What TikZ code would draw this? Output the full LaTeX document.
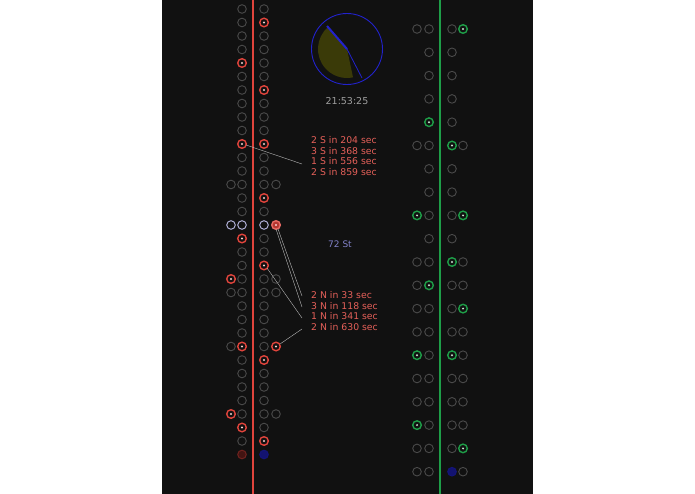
\documentclass[tikz,border=0pt]{standalone}
\usepackage{fontspec}
\setmainfont{DejaVu Sans}
\usetikzlibrary{positioning}
\definecolor{panel}{HTML}{111111}
\definecolor{sred}{HTML}{E0443C}
\definecolor{sgreen}{HTML}{1E9E48}
\definecolor{ring}{HTML}{4A4A4A}
\definecolor{olive}{HTML}{3A3A08}
\definecolor{dial}{HTML}{2222CC}
\begin{document}
\begin{tikzpicture}[x=1pt, y=-1pt,
    st n/.style={draw=none},
    st o/.style={draw=ring, line width=0.9pt},
    st w/.style={draw=gray!70!blue!50, line width=1pt},
    st r/.style={draw=sred, line width=1.4pt,
        path picture={\fill[white!75!sred] (path picture bounding box.center) circle (1.1pt);}},
    st q/.style={draw=sred!80, line width=1.4pt, fill=sred!80!black,
        path picture={\fill[white!75!sred] (path picture bounding box.center) circle (1.1pt);}},
    st g/.style={draw=sgreen, line width=1.4pt,
        path picture={\fill[white!75!sgreen] (path picture bounding box.center) circle (1.1pt);}},
    st d/.style={draw=sred!50!black, line width=1pt, fill=sred!30!black},
    st b/.style={draw=dial!60!black, line width=1pt, fill=dial!55!black},
    info/.style={text=sred!85, font=\fontsize{9.3}{10.8}\selectfont, align=left, inner sep=0pt},
    lead/.style={draw=gray!55, line width=0.4pt}]
    \useasboundingbox (0,0) rectangle (695,494);
    \fill[panel] (162,0) rectangle (533,494);

    % Red line with its stops
    \draw[sred, line width=2.6pt] (253,0) -- (253,494);
    \foreach \k/\a/\b/\c/\d in {0/n/o/o/n, 1/n/o/r/n, 2/n/o/o/n, 3/n/o/o/n, 4/n/r/o/n,
        5/n/o/o/n, 6/n/o/r/n, 7/n/o/o/n, 8/n/o/o/n, 9/n/o/o/n, 10/n/r/r/n, 11/n/o/o/n,
        12/n/o/o/n, 13/o/o/o/o, 14/n/o/r/n, 15/n/o/o/n, 16/w/w/w/q, 17/n/r/o/n,
        18/n/o/o/n, 19/n/o/r/n, 20/r/o/o/o, 21/o/o/o/o, 22/n/o/o/n, 23/n/o/o/n,
        24/n/o/o/n, 25/o/r/o/r, 26/n/o/r/n, 27/n/o/o/n, 28/n/o/o/n, 29/n/o/o/n,
        30/r/o/o/o, 31/n/r/o/n, 32/n/o/r/n, 33/n/d/b/n} {
        \pgfmathsetmacro{\yy}{9+13.5*\k}
        \path[st \a] (231,\yy) circle (4.3pt);
        \path[st \b] (242,\yy) circle (4.3pt);
        \path[st \c] (264,\yy) circle (4.3pt);
        \path[st \d] (276,\yy) circle (4.3pt);
    }

    % Green line with its stops
    \draw[sgreen, line width=2.6pt] (440,0) -- (440,494);
    \foreach \k/\a/\b/\c/\d in {0/o/o/o/g, 1/n/o/o/n, 2/n/o/o/n, 3/n/o/o/n, 4/n/g/o/n,
        5/o/o/g/o, 6/n/o/o/n, 7/n/o/o/n, 8/g/o/o/g, 9/n/o/o/n, 10/o/o/g/o,
        11/o/g/o/o, 12/o/o/o/g, 13/o/o/o/o, 14/g/o/g/o, 15/o/o/o/o, 16/o/o/o/o,
        17/g/o/o/o, 18/o/o/o/g, 19/o/o/b/o} {
        \pgfmathsetmacro{\yy}{29+23.3*\k}
        \path[st \a] (417,\yy) circle (4.3pt);
        \path[st \b] (429,\yy) circle (4.3pt);
        \path[st \c] (452,\yy) circle (4.3pt);
        \path[st \d] (463,\yy) circle (4.3pt);
    }

    % Clock
    \coordinate (ctr) at (347,49);
    \fill[olive] (ctr) -- ++(229:29) arc[start angle=229, end angle=78, radius=29] -- cycle;
    \draw[dial, line width=0.9pt] (ctr) circle (35.5pt);
    \draw[dial, line width=2pt] (ctr) -- (327,26);
    \draw[dial, line width=0.8pt] (ctr) -- (362,78);
    \node[text=gray!75, font=\fontsize{9.5}{11}\selectfont] (clock) at (347,101) {21:53:25};
    \node[text=gray!60!blue!70, font=\fontsize{9}{10}\selectfont] (stn) at (340,244) {72 St};

    % Arrivals
    \node[info, anchor=north west] (south) at (311,136) {2 S in 204 sec\\3 S in 368 sec\\1 S in 556 sec\\2 S in 859 sec};
    \node[info, anchor=north west] (north) at (311,291) {2 N in 33 sec\\3 N in 118 sec\\1 N in 341 sec\\2 N in 630 sec};
    \draw[lead] (246,145) -- (302,164);
    \draw[lead] (278,229) -- (302,296);
    \draw[lead] (276,229) -- (302,307);
    \draw[lead] (267,268) -- (302,318);
    \draw[lead] (280,344) -- (302,329);
\end{tikzpicture}
\end{document}
